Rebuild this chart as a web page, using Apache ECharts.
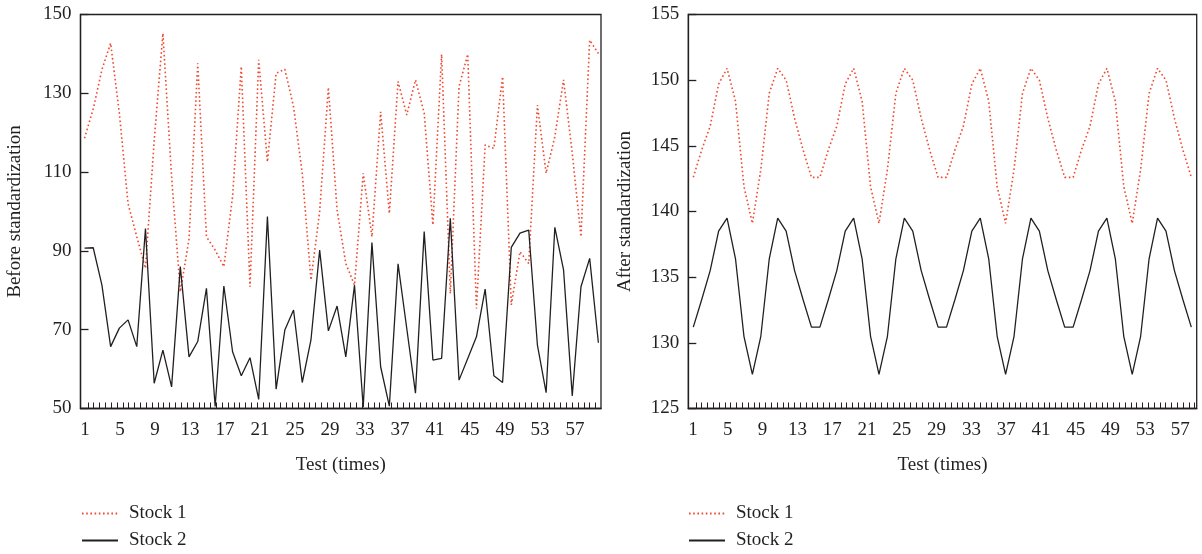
<!DOCTYPE html>
<html>
<head>
<meta charset="utf-8">
<script src="https://cdn.jsdelivr.net/npm/echarts@6/dist/echarts.min.js"></script>
<style>
html,body{margin:0;padding:0;background:#fff;}
#c{width:1202px;height:554px;}
</style>
</head>
<body>
<div id="c"></div>
<script>
// ---- data ----
var xLabels = [1,5,9,13,17,21,25,29,33,37,41,45,49,53,57];
var beforeStock1 = [118.6,126,136,142.7,125,102,93.6,85.6,118,145.2,108.8,79.6,93,137.6,93.6,90.2,86,103.8,136.8,80.9,138.5,112.6,135.1,136.1,126.6,109.7,82.6,100,131.5,100.4,86.8,81.3,109.7,93.6,125.3,99.5,133,124.5,133.4,125,96.6,139.9,79.2,131.7,139.9,75.4,116.9,116,134.2,76.3,89.8,86.8,127,109.7,119,133.4,114.8,93.6,143.5,140.1];
var beforeStock2 = [90.7,90.8,81.3,65.7,70.4,72.5,65.7,95.7,56.4,64.8,55.5,86,63.1,67,80.5,50.5,81.1,64.4,58.3,62.9,52.3,98.7,54.9,69.9,75,56.6,67.4,90.2,69.7,76,63.1,81.3,50.3,92.1,60.6,50.6,86.7,70.3,53.9,94.9,62.3,62.7,98.3,57.2,62.7,68.2,80.3,58.3,56.6,90.9,94.5,95.3,66.1,54,96,85.2,53.2,80.9,88.1,66.7];
var afterStock1 = [142.6,144.7,146.5,149.7,150.9,148.4,141.9,139.1,143.2,149.0,150.9,150.0,147.1,144.7,142.6,
                   142.6,144.7,146.5,149.7,150.9,148.4,141.9,139.1,143.2,149.0,150.9,150.0,147.1,144.7,142.6,
                   142.6,144.7,146.5,149.7,150.9,148.4,141.9,139.1,143.2,149.0,150.9,150.0,147.1,144.7,142.6,
                   142.6,144.7,146.5,149.7,150.9,148.4,141.9,139.1,143.2,149.0,150.9,150.0,147.1,144.7,142.6];
var afterStock2 = [131.2,133.3,135.5,138.5,139.5,136.4,130.5,127.6,130.5,136.4,139.5,138.5,135.5,133.3,131.2,
                   131.2,133.3,135.5,138.5,139.5,136.4,130.5,127.6,130.5,136.4,139.5,138.5,135.5,133.3,131.2,
                   131.2,133.3,135.5,138.5,139.5,136.4,130.5,127.6,130.5,136.4,139.5,138.5,135.5,133.3,131.2,
                   131.2,133.3,135.5,138.5,139.5,136.4,130.5,127.6,130.5,136.4,139.5,138.5,135.5,133.3,131.2];
var seriesNames = ['Stock 1','Stock 2'];
var yNames = ['Before standardization','After standardization'];
var xName = 'Test (times)';

// ---- helpers ----
var FONT = '"Liberation Serif", "DejaVu Serif", serif';
var TXT = '#231f20';
var RED = '#ef4a32';
var BLK = '#231f20';
function pairs(a){ return a.map(function(v,i){ return [i+1, v]; }); }
function tickVals(max){ var t=[]; for (var v=1+1/3; v<max; v+=2/3) t.push(v); return t; }

var chart = echarts.init(document.getElementById('c'), null, {renderer:'canvas'});

function labelAxis(grid, min, max){
  return {
    type:'value', gridIndex:grid, min:min, max:max, position:'bottom',
    axisLine:{show:true, onZero:false, lineStyle:{color:TXT, width:1.3}},
    axisTick:{show:true, inside:true, length:6, lineStyle:{color:TXT, width:1}, customValues: tickVals(max)},
    axisLabel:{show:true, customValues:xLabels, color:TXT, fontFamily:FONT, fontSize:19, margin:12},
    splitLine:{show:false},
    name:xName, nameLocation:'middle', nameGap:47,
    nameTextStyle:{color:TXT, fontFamily:FONT, fontSize:19}
  };
}
function dataAxis(grid, min, max){
  return {type:'value', gridIndex:grid, min:min, max:max, show:false, splitLine:{show:false}};
}
function yAxis(grid, min, max, interval, name, gap){
  return {
    type:'value', gridIndex:grid, min:min, max:max, interval:interval,
    axisLine:{show:true, lineStyle:{color:TXT, width:1.3}},
    axisTick:{show:true, inside:true, length:8, lineStyle:{color:TXT, width:1.3}},
    axisLabel:{color:TXT, fontFamily:FONT, fontSize:19, margin:9},
    splitLine:{show:false},
    name:name, nameLocation:'middle', nameRotate:90, nameGap:gap,
    nameTextStyle:{color:TXT, fontFamily:FONT, fontSize:19}
  };
}
function redSeries(xi, yi, data){
  return {name:seriesNames[0], type:'line', xAxisIndex:xi, yAxisIndex:yi, data:pairs(data),
    symbol:'none', lineStyle:{color:RED, width:1.6, type:[1.6,2.6]}, itemStyle:{color:RED}};
}
function blkSeries(xi, yi, data){
  return {name:seriesNames[1], type:'line', xAxisIndex:xi, yAxisIndex:yi, data:pairs(data),
    symbol:'none', lineStyle:{color:BLK, width:1.3}, itemStyle:{color:BLK}};
}
function legend(left){
  return {data:seriesNames, orient:'vertical', left:left, top:504, padding:0,
    itemWidth:36, itemHeight:14, itemGap:8,
    itemStyle:{opacity:0},
    textStyle:{color:TXT, fontFamily:FONT, fontSize:19, padding:[0,0,0,6]}};
}

chart.setOption({
  animation:false,
  backgroundColor:'#fff',
  grid:[
    {left:80.5, top:14.5, width:520.5, height:394, show:true, borderColor:TXT, borderWidth:1.3, backgroundColor:'transparent'},
    {left:688.3, top:14.5, width:508.4, height:394, show:true, borderColor:TXT, borderWidth:1.3, backgroundColor:'transparent'}
  ],
  xAxis:[
    labelAxis(0, 0.486, 59.97),
    dataAxis(0, 0.54, 60.3),
    labelAxis(1, 0.46, 58.9),
    dataAxis(1, 0.408, 60.64)
  ],
  yAxis:[
    yAxis(0, 50, 150, 20, yNames[0], 56),
    yAxis(1, 125, 155, 5, yNames[1], 54)
  ],
  legend:[legend(81), legend(688)],
  series:[
    redSeries(1, 0, beforeStock1),
    blkSeries(1, 0, beforeStock2),
    redSeries(3, 1, afterStock1),
    blkSeries(3, 1, afterStock2)
  ]
});
</script>
</body>
</html>
